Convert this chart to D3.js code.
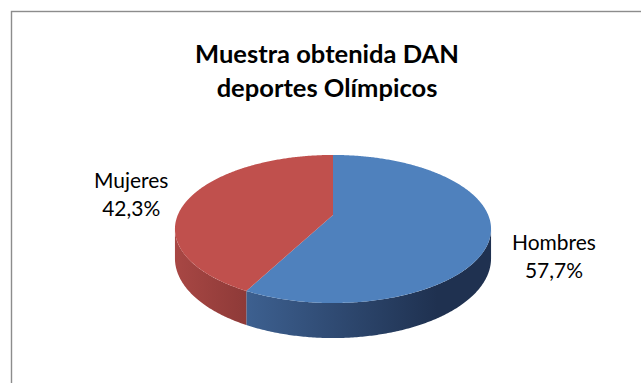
<!DOCTYPE html>
<html>
<head>
<meta charset="utf-8">
<script src="https://cdn.jsdelivr.net/npm/d3@7"></script>
<style>
  body { margin: 0; background: #fff; }
  text { font-family: Lato, "Open Sans", sans-serif; fill: #000; }
</style>
</head>
<body>
<svg id="chart" width="641" height="383"></svg>
<script>
var titleLines = ["Muestra obtenida DAN", "deportes Olímpicos"];
var categories = ["Hombres", "Mujeres"];
var values = [57.7, 42.3];
var sliceColors = ["#4F81BD", "#C0504D"];
var sideColors = [["#3D6090", "#1F3150"], ["#A84744", "#8E3A38"]];

var svg = d3.select("#chart");
var locale = d3.formatLocale({decimal: ",", thousands: ".", grouping: [3]});
var fmtPct = locale.format(".1f");

// frame (runs past right / bottom of the window like the original crop)
svg.append("rect")
    .attr("x", 11.5).attr("y", 11.5)
    .attr("width", 720).attr("height", 500)
    .attr("fill", "#fff")
    .attr("stroke", "#8c8c8c")
    .attr("stroke-width", 1.4);

// simple perspective projection of a tilted disc
var cx = 333, cy = 215;
var A = 71.4, B = 155.2, k = 0.189, H = 28.4;
function proj(a, r, down) {
  var den = 1 + k * Math.cos(a);
  return [cx + r * B * Math.sin(a) / den,
          cy - r * A * Math.cos(a) / den + (down ? H / den : 0)];
}

var pie = d3.pie().sort(null).value(function(d) { return d; });
var arcs = pie(values);

function rimPoints(a0, a1, down) {
  var n = Math.max(2, Math.ceil((a1 - a0) / 0.01));
  return d3.range(n + 1).map(function(i) { return proj(a0 + (a1 - a0) * i / n, 1, down); });
}
var line = d3.line();

// visible range of the outer wall
var visA = Math.acos(-k), visB = 2 * Math.PI - Math.acos(-k);

var defs = svg.append("defs");
var g = svg.append("g");

arcs.forEach(function(d, i) {
  var a0 = Math.max(d.startAngle, visA), a1 = Math.min(d.endAngle, visB);
  if (a1 <= a0) return;
  var top = rimPoints(a0, a1, false);
  var bot = rimPoints(a0, a1, true).reverse();
  var xs = top.map(function(p) { return p[0]; });
  var gid = "side" + i;
  var grad = defs.append("linearGradient").attr("id", gid)
      .attr("gradientUnits", "userSpaceOnUse")
      .attr("x1", d3.min(xs)).attr("x2", d3.max(xs))
      .attr("y1", 0).attr("y2", 0);
  grad.append("stop").attr("offset", 0).attr("stop-color", sideColors[i][0]);
  grad.append("stop").attr("offset", i === 0 ? 0.78 : 1).attr("stop-color", sideColors[i][1]);
  grad.append("stop").attr("offset", 1).attr("stop-color", sideColors[i][1]);
  g.append("path")
      .attr("d", line(top.concat(bot)) + "Z")
      .attr("fill", "url(#" + gid + ")");
});

arcs.forEach(function(d, i) {
  var pts = [[cx, cy]].concat(rimPoints(d.startAngle, d.endAngle, false));
  g.append("path")
      .attr("d", line(pts) + "Z")
      .attr("fill", sliceColors[i]);
});

// title
var title = svg.append("text")
    .attr("text-anchor", "middle")
    .attr("font-weight", "bold")
    .attr("font-size", 24);
titleLines.forEach(function(t, i) {
  title.append("tspan").attr("x", 327).attr("y", 62.7 + i * 34).text(t);
});
var tw = title.select("tspan").node().getComputedTextLength();
title.attr("font-size", 24 * 264 / tw);

// data labels
var labels = svg.append("g").attr("font-size", 19);
arcs.forEach(function(d, i) {
  var mid = (d.startAngle + d.endAngle) / 2;
  var p = proj(mid, 1.4, false);
  var onSide = mid > visA && mid < visB;
  var yc = p[1] + (onSide ? H / 2 : 0) + 3;
  var t = labels.append("text").attr("text-anchor", "middle");
  t.append("tspan").attr("x", p[0]).attr("y", yc - 7).text(categories[i]);
  t.append("tspan").attr("x", p[0]).attr("y", yc + 21).text(fmtPct(values[i]) + "%");
});
var lw = labels.select("tspan").node().getComputedTextLength();
labels.attr("font-size", 19 * 84 / lw);
</script>
</body>
</html>
